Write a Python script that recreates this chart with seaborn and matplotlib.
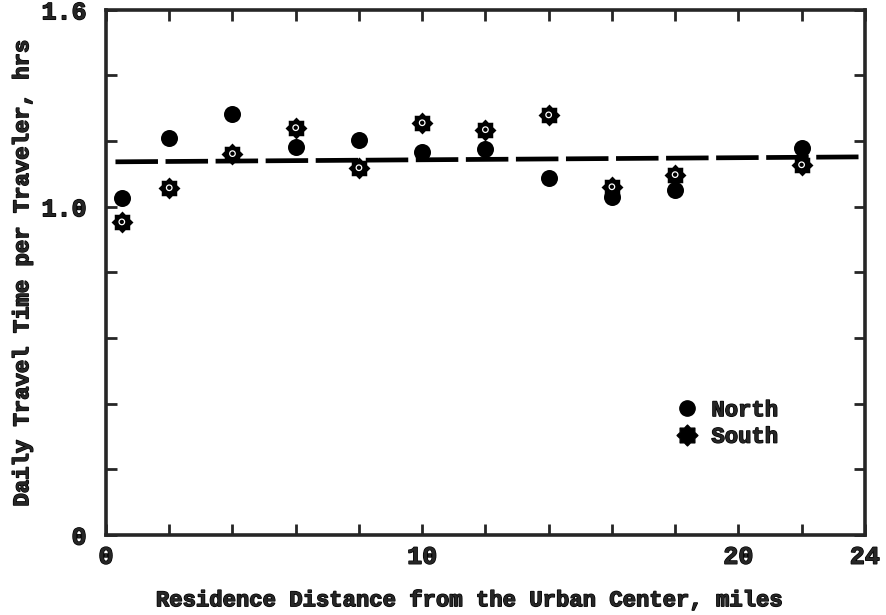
import numpy as np
import pandas as pd
import matplotlib
matplotlib.use("Agg")
import matplotlib.pyplot as plt
import matplotlib.patheffects as pe
from matplotlib.path import Path
from matplotlib.lines import Line2D
import seaborn as sns

# ---- data ----
distance = [0.5, 2, 4, 6, 8, 10, 12, 14, 16, 18, 22]
north = [1.027, 1.21, 1.284, 1.183, 1.204, 1.168, 1.177, 1.088, 1.03, 1.052, 1.18]
south = [0.954, 1.058, 1.162, 1.241, 1.119, 1.256, 1.235, 1.280, 1.061, 1.098, 1.128]
trend_x = [0.3, 23.8]
trend_y = [1.137, 1.152]

x_ticklabels = {0: "0", 10: "10", 20: "20", 24: "24"}
y_ticklabels = {0.0: "0", 1.0: "1.0", 1.6: "1.6"}

df = pd.DataFrame({"x": distance, "North": north, "South": south})
trend = pd.DataFrame({"x": trend_x, "y": trend_y})

sns.set_style("ticks")
plt.rcParams["font.family"] = ["Liberation Mono", "DejaVu Sans Mono"]
plt.rcParams["font.weight"] = "bold"

heavy = [pe.withStroke(linewidth=1.0, foreground="black")]

# gear-like 8 point star marker
n = 8
ang = np.linspace(0, 2 * np.pi, 2 * n, endpoint=False) + np.pi / 2
rad = np.where(np.arange(2 * n) % 2 == 0, 1.0, 0.76)
verts = np.column_stack([rad * np.cos(ang), rad * np.sin(ang)])
verts = np.vstack([verts, verts[:1]])
codes = [Path.MOVETO] + [Path.LINETO] * (2 * n - 1) + [Path.CLOSEPOLY]
star = Path(verts, codes)

fig = plt.figure(figsize=(8.87, 6.15), dpi=100)
ax = fig.add_axes([0.1195, 0.130, 0.8555, 0.854])

sns.lineplot(data=trend, x="x", y="y", ax=ax, color="black", lw=3.4,
             dashes=False, zorder=1).lines[0].set_dashes([9, 1.6])
sns.scatterplot(data=df, x="x", y="North", ax=ax, marker="o", s=150,
                color="black", edgecolor="black", linewidth=0, zorder=3)
sns.scatterplot(data=df, x="x", y="South", ax=ax, marker=star, s=250,
                color="black", edgecolor="black", linewidth=0, zorder=4)
sns.scatterplot(data=df, x="x", y="South", ax=ax, marker="o", s=16,
                facecolor="none", edgecolor="white", linewidth=0.9, zorder=5)

ax.set_xlim(0, 24)
ax.set_ylim(0, 1.6)
xt = np.arange(0, 24.01, 2)
ax.set_xticks(xt)
ax.set_xticklabels([x_ticklabels.get(int(round(v)), "") for v in xt])
yt = np.round(np.arange(0, 1.601, 0.2), 1)
ax.set_yticks(yt)
ax.set_yticklabels([y_ticklabels.get(float(v), "") for v in yt])

ax.tick_params(direction="in", length=8, width=2, top=True, right=True,
               labelsize=18)
ax.tick_params(axis="x", pad=7)
ax.tick_params(axis="y", pad=14)
for lab in ax.get_xticklabels() + ax.get_yticklabels():
    lab.set_fontweight("bold")
    lab.set_path_effects(heavy)
for s in ax.spines.values():
    s.set_linewidth(2.6)
    s.set_visible(True)

ax.set_xlabel("Residence Distance from the Urban Center, miles",
              fontsize=16, fontweight="bold", labelpad=18, path_effects=heavy)
ax.xaxis.set_label_coords(0.48, -0.105)
ax.set_ylabel("Daily Travel Time per Traveler, hrs",
              fontsize=16, fontweight="bold", labelpad=6, path_effects=heavy)

handles = [
    Line2D([], [], marker="o", color="black", linestyle="none", markersize=11),
    Line2D([], [], marker=star, color="black", linestyle="none", markersize=15),
]
leg = ax.legend(handles, ["North", "South"], loc="upper left",
                bbox_to_anchor=(0.71, 0.295), frameon=False, handletextpad=0.1,
                labelspacing=0.25, prop={"size": 16, "weight": "bold"})
for t in leg.get_texts():
    t.set_path_effects(heavy)

fig.savefig("out.png", dpi=100)
